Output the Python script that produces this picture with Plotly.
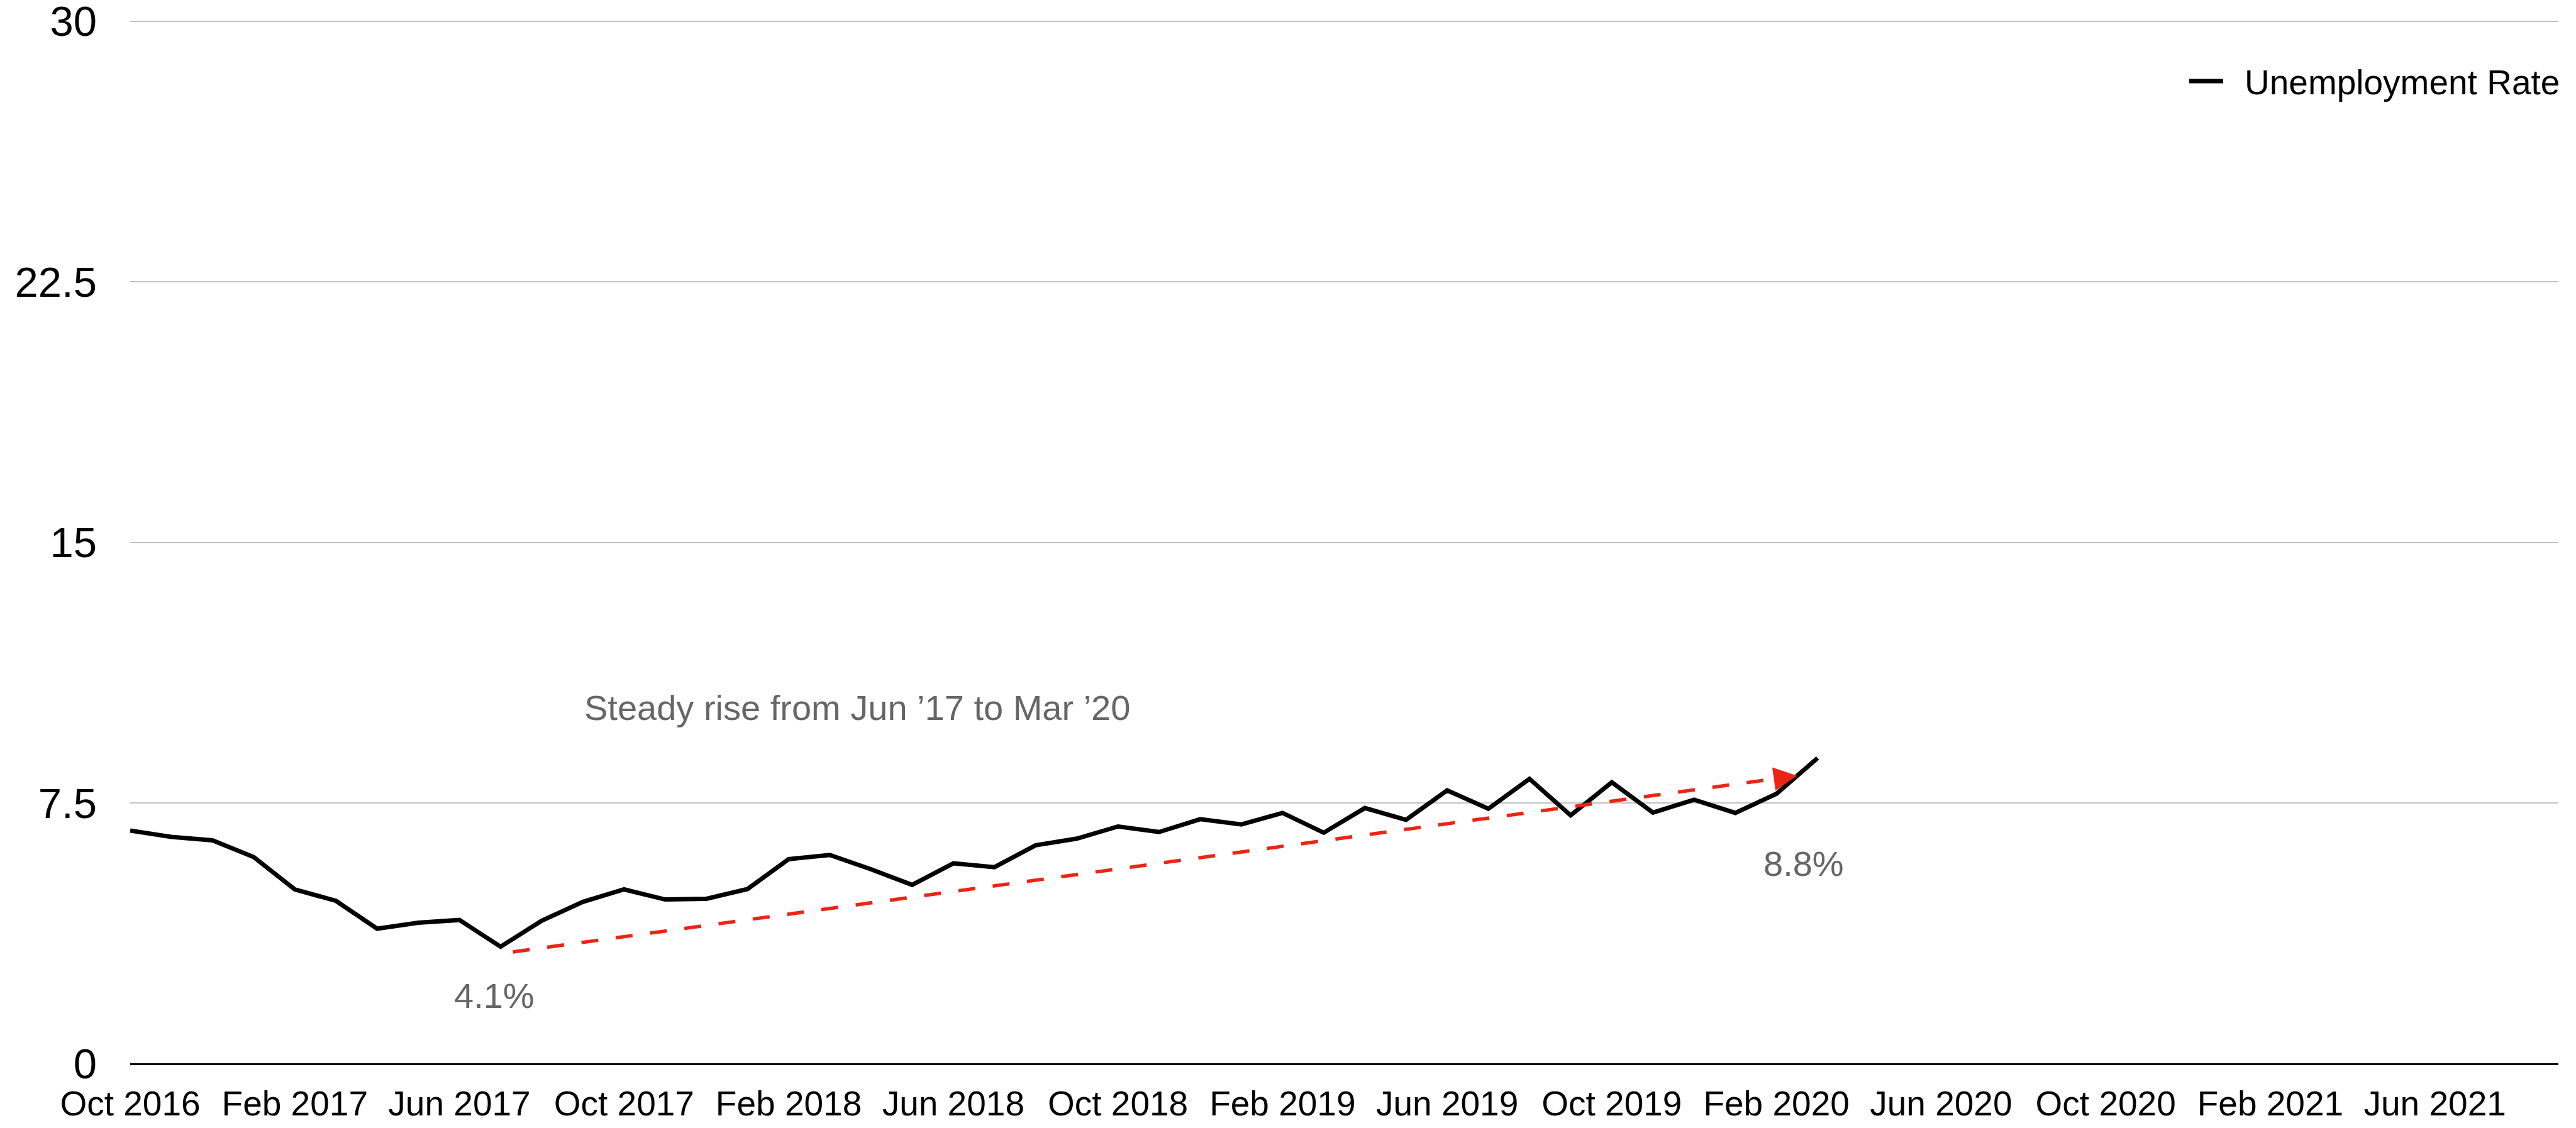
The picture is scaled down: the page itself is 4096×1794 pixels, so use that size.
import pandas as pd
import plotly.graph_objects as go

# ---- data ----
months = [d.strftime("%b %Y") for d in pd.date_range("2016-10-01", "2021-09-01", freq="MS")]
rate = [6.71, 6.53, 6.43, 5.95, 5.02, 4.69, 3.89, 4.06, 4.14, 3.37,
        4.12, 4.66, 5.02, 4.73, 4.75, 5.03, 5.89, 6.01, 5.60, 5.15,
        5.77, 5.66, 6.29, 6.48, 6.83, 6.67, 7.04, 6.89, 7.22, 6.65,
        7.36, 7.02, 7.87, 7.34, 8.20, 7.15, 8.10, 7.23, 7.60, 7.22,
        7.77, 8.80]
rate_months = months[:len(rate)]
tick_months = months[::4][:15]
y_ticks = [0, 7.5, 15, 22.5, 30]
y_ticktext = ["0", "7.5", "15", "22.5", "30"]
series_name = "Unemployment Rate"

# trend arrow (month index, value)
trend_x = [9.3, 40.5]
trend_y = [3.22, 8.29]

FONT = "Liberation Sans, Arial, Helvetica, sans-serif"
RED = "#ED2414"
GREY_TXT = "#666666"

# ---- layout geometry (figure is offset 8px by the page body margin) ----
W, H = 4080, 1778
ML, MR, MT, MB = 199, 20, 24, 94
PW, PH = W - ML - MR, H - MT - MB
OFF = 8


def px_x(win_x):
    return (win_x - OFF - ML) / PW


def px_y(win_y):
    return (H - MB - (win_y - OFF)) / PH


fig = go.Figure()
fig.add_trace(go.Scatter(
    x=rate_months, y=rate, mode="lines", name=series_name,
    line=dict(color="black", width=7), xaxis="x", yaxis="y",
    showlegend=False,
))

# dashed trend line (stops just short of the arrow tip)
frac = 0.988
tx_end = trend_x[0] + (trend_x[1] - trend_x[0]) * frac
ty_end = trend_y[0] + (trend_y[1] - trend_y[0]) * frac
fig.add_trace(go.Scatter(
    x=[trend_x[0], tx_end], y=[trend_y[0], ty_end], mode="lines",
    line=dict(color=RED, width=5.5, dash="27px,28px"),
    xaxis="x2", yaxis="y", showlegend=False, hoverinfo="skip",
))

fig.add_annotation(
    x=trend_x[1], y=trend_y[1], xref="x2", yref="y",
    ax=tx_end, ay=ty_end, axref="x2", ayref="y",
    showarrow=True, arrowhead=2, arrowsize=1.65, arrowwidth=4.5,
    arrowcolor=RED, text="", standoff=0,
)

fig.add_annotation(
    x=11.0, y=10.25, xref="x2", yref="y", xanchor="left", yanchor="middle",
    text="Steady rise from Jun ’17 to Mar ’20", showarrow=False,
    font=dict(family=FONT, size=56, color=GREY_TXT),
)
fig.add_annotation(
    x=8.85, y=1.97, xref="x2", yref="y", xanchor="center", yanchor="middle",
    text="4.1%", showarrow=False,
    font=dict(family=FONT, size=56, color=GREY_TXT),
)
fig.add_annotation(
    x=40.67, y=5.77, xref="x2", yref="y", xanchor="center", yanchor="middle",
    text="8.8%", showarrow=False,
    font=dict(family=FONT, size=56, color=GREY_TXT),
)

# legend (line swatch + label) in the top-right corner
fig.add_shape(
    type="line", xref="paper", yref="paper",
    x0=px_x(3481), x1=px_x(3535), y0=px_y(129), y1=px_y(129),
    line=dict(color="black", width=7),
)
fig.add_annotation(
    x=px_x(3567), y=px_y(131), xref="paper", yref="paper",
    xanchor="left", yanchor="middle", showarrow=False,
    text=series_name, font=dict(family=FONT, size=55, color="black"),
)

fig.update_layout(
    width=W, height=H,
    margin=dict(l=ML, r=MR, t=MT, b=MB, autoexpand=False),
    paper_bgcolor="white", plot_bgcolor="white",
    font=dict(family=FONT, color="black"),
    showlegend=False,
    xaxis=dict(
        type="category", categoryorder="array", categoryarray=months,
        range=[0, len(months) - 1],
        tickmode="array", tickvals=tick_months, ticktext=tick_months,
        showgrid=False, showline=False, zeroline=False, ticks="",
        tickfont=dict(family=FONT, size=55, color="black"),
        ticklabelstandoff=26, ticklabeloverflow="allow",
    ),
    xaxis2=dict(
        overlaying="x", anchor="y", range=[0, len(months) - 1],
        visible=False, showgrid=False, zeroline=False,
    ),
    yaxis=dict(
        range=[0, 30.03], tickmode="array", tickvals=y_ticks, ticktext=y_ticktext,
        showgrid=True, gridcolor="#c2c2c2", gridwidth=2,
        zeroline=True, zerolinecolor="black", zerolinewidth=2.6,
        showline=False, ticks="",
        tickfont=dict(family=FONT, size=67, color="black"),
        ticklabelstandoff=52, ticklabeloverflow="allow",
    ),
)

fig.write_html("out.html")
